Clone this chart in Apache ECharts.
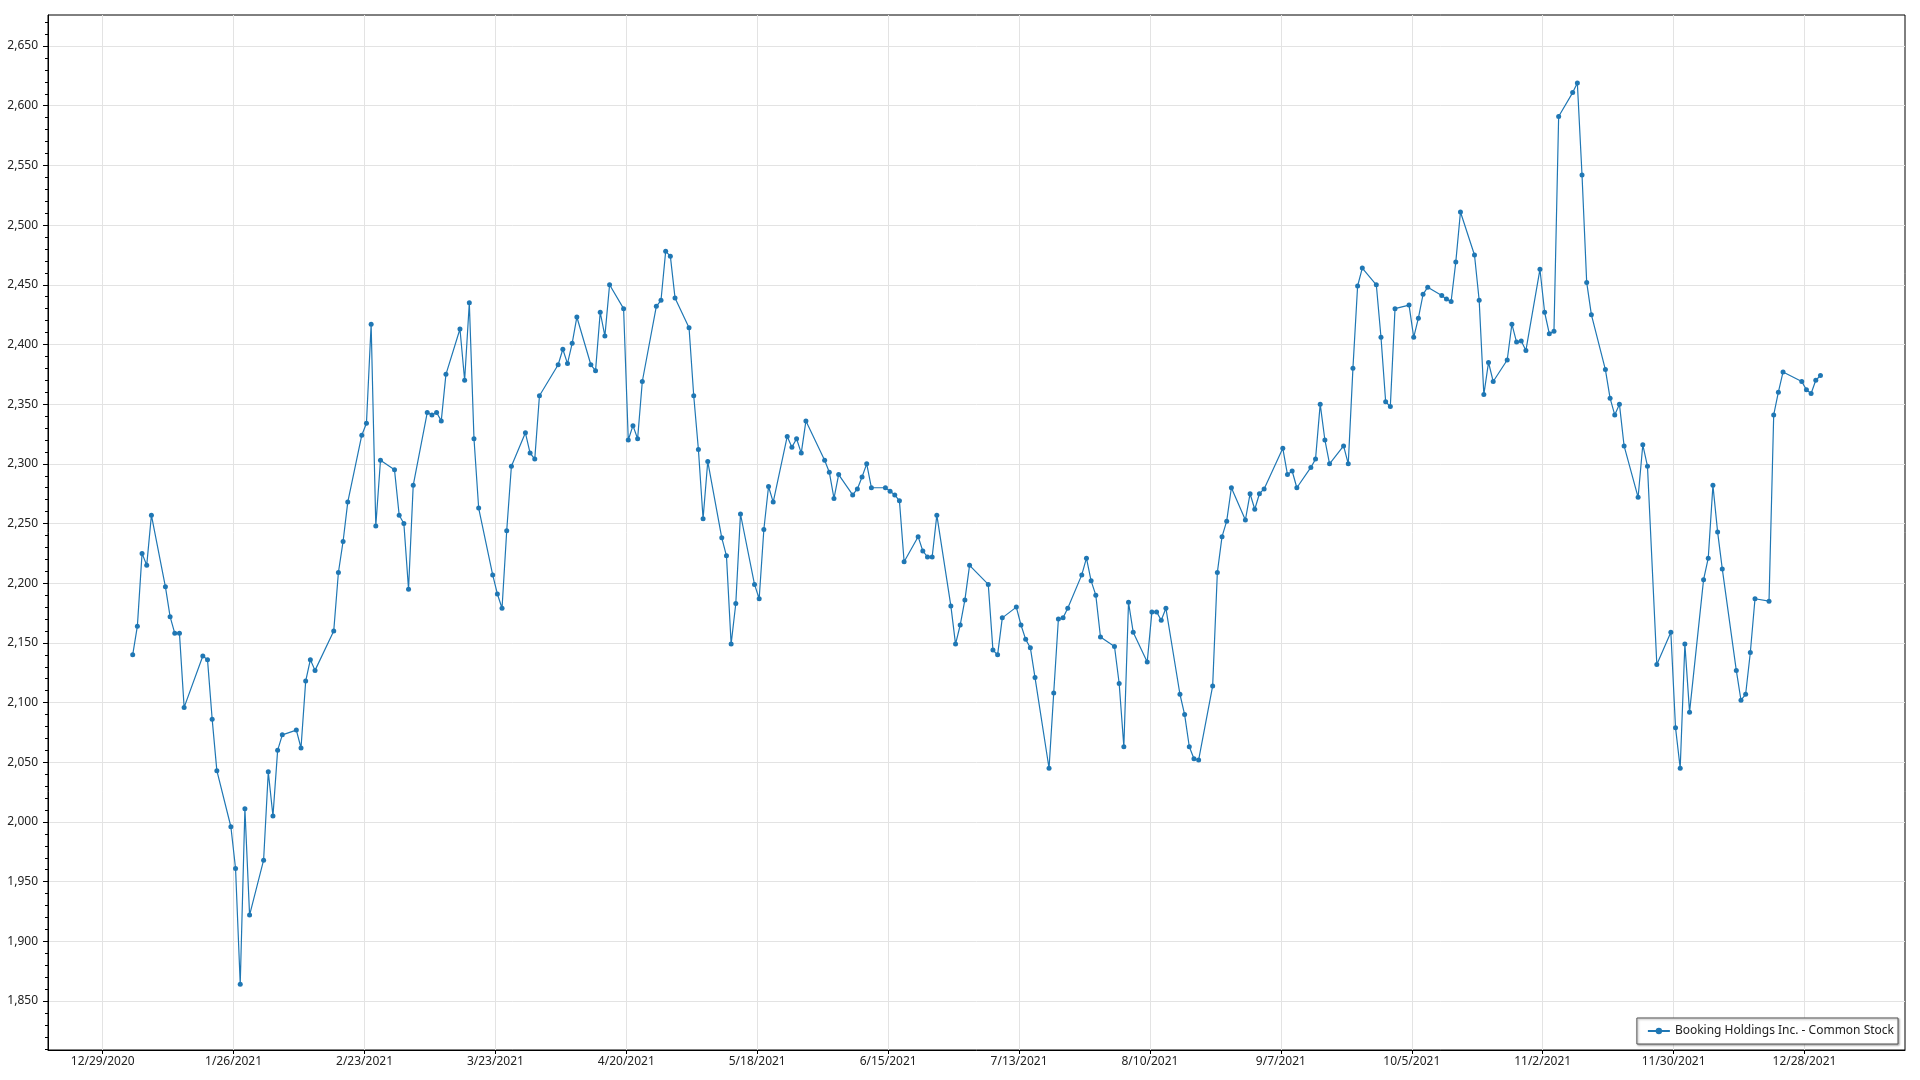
<!DOCTYPE html>
<html>
<head>
<meta charset="utf-8">
<script src="https://cdn.jsdelivr.net/npm/echarts@6/dist/echarts.min.js"></script>
<style>
html,body{margin:0;padding:0;background:#fff;}
#chart{width:1920px;height:1080px;}
</style>
</head>
<body>
<div id="chart"></div>
<script>
// ---- data: 2021 trading days (day of month) and closing prices ----
const janDays = [4,5,6,7,8,11,12,13,14,15,19,20,21,22,25,26,27,28,29];
const janClose = [2140,2164,2225,2215,2257,2197,2172,2158,2158,2096,2139,2136,2086,2043,1996,1961,1864,2011,1922];
const febDays = [1,2,3,4,5,8,9,10,11,12,16,17,18,19,22,23,24,25,26];
const febClose = [1968,2042,2005,2060,2073,2077,2062,2118,2136,2127,2160,2209,2235,2268,2324,2334,2417,2248,2303];
const marDays = [1,2,3,4,5,8,9,10,11,12,15,16,17,18,19,22,23,24,25,26,29,30,31];
const marClose = [2295,2257,2250,2195,2282,2343,2341,2343,2336,2375,2413,2370,2435,2321,2263,2207,2191,2179,2244,2298,2326,2309,2304];
const aprDays = [1,5,6,7,8,9,12,13,14,15,16,19,20,21,22,23,26,27,28,29,30];
const aprClose = [2357,2383,2396,2384,2401,2423,2383,2378,2427,2407,2450,2430,2320,2332,2321,2369,2432,2437,2478,2474,2439];
const mayDays = [3,4,5,6,7,10,11,12,13,14,17,18,19,20,21,24,25,26,27,28];
const mayClose = [2414,2357,2312,2254,2302,2238,2223,2149,2183,2258,2199,2187,2245,2281,2268,2323,2314,2321,2309,2336];
const junDays = [1,2,3,4,7,8,9,10,11,14,15,16,17,18,21,22,23,24,25,28,29,30];
const junClose = [2303,2293,2271,2291,2274,2279,2289,2300,2280,2280,2277,2274,2269,2218,2239,2227,2222,2222,2257,2181,2149,2165];
const julDays = [1,2,6,7,8,9,12,13,14,15,16,19,20,21,22,23,26,27,28,29,30];
const julClose = [2186,2215,2199,2144,2140,2171,2180,2165,2153,2146,2121,2045,2108,2170,2171,2179,2207,2221,2202,2190,2155];
const augDays = [2,3,4,5,6,9,10,11,12,13,16,17,18,19,20,23,24,25,26,27,30,31];
const augClose = [2147,2116,2063,2184,2159,2134,2176,2176,2169,2179,2107,2090,2063,2053,2052,2114,2209,2239,2252,2280,2253,2275];
const sepDays = [1,2,3,7,8,9,10,13,14,15,16,17,20,21,22,23,24,27,28,29,30];
const sepClose = [2262,2275,2279,2313,2291,2294,2280,2297,2304,2350,2320,2300,2315,2300,2380,2449,2464,2450,2406,2352,2348];
const octDays = [1,4,5,6,7,8,11,12,13,14,15,18,19,20,21,22,25,26,27,28,29];
const octClose = [2430,2433,2406,2422,2442,2448,2441,2438,2436,2469,2511,2475,2437,2358,2385,2369,2387,2417,2402,2403,2395];
const novDays = [1,2,3,4,5,8,9,10,11,12,15,16,17,18,19,22,23,24,26,29,30];
const novClose = [2463,2427,2409,2411,2591,2611,2619,2542,2452,2425,2379,2355,2341,2350,2315,2272,2316,2298,2132,2159,2079];
const decDays = [1,2,3,6,7,8,9,10,13,14,15,16,17,20,21,22,23,27,28,29,30,31];
const decClose = [2045,2149,2092,2203,2221,2282,2243,2212,2127,2102,2107,2142,2187,2185,2341,2360,2377,2369,2362,2359,2370,2374];

const seriesName = 'Booking Holdings Inc. - Common Stock';
const yTickValues = [1850,1900,1950,2000,2050,2100,2150,2200,2250,2300,2350,2400,2450,2500,2550,2600,2650];
const xTickDates = ['2020-12-29','2021-01-26','2021-02-23','2021-03-23','2021-04-20','2021-05-18','2021-06-15','2021-07-13','2021-08-10','2021-09-07','2021-10-05','2021-11-02','2021-11-30','2021-12-28'];
const sampleHour = 10; // quotes are stamped at 10:00 on each trading day

// ---- build ----
const monthDays = [janDays,febDays,marDays,aprDays,mayDays,junDays,julDays,augDays,sepDays,octDays,novDays,decDays];
const monthClose = [janClose,febClose,marClose,aprClose,mayClose,junClose,julClose,augClose,sepClose,octClose,novClose,decClose];
const seriesData = [];
monthDays.forEach((days, m) => {
  days.forEach((d, i) => {
    seriesData.push([new Date(2021, m, d, sampleHour).getTime(), monthClose[m][i]]);
  });
});
function parseLocal(s){ const p = s.split('-').map(Number); return new Date(p[0], p[1]-1, p[2]).getTime(); }
const xTicks = xTickDates.map(parseLocal);
const xMin = new Date(2020, 11, 17, 7, 12).getTime();
const xMax = new Date(2022, 0, 18, 12).getTime();
const yMin = 1809, yMax = 2676;
const minorY = [];
for (let v = 1810; v <= 2670; v += 10) { if (v % 50 !== 0) minorY.push(v); }

const FONT = "'Segoe UI', 'Noto Sans', sans-serif";
const chart = echarts.init(document.getElementById('chart'), null, {renderer: 'canvas'});
chart.setOption({
  animation: false,
  backgroundColor: '#ffffff',
  textStyle: {fontFamily: FONT},
  grid: {left: 48, right: 15, top: 15, bottom: 30, show: true, borderColor: '#000', borderWidth: 1, backgroundColor: 'transparent'},
  legend: {
    right: 22, bottom: 36,
    orient: 'horizontal',
    backgroundColor: '#ffffff',
    borderColor: '#555',
    borderWidth: 1,
    padding: [7, 4, 7, 10],
    itemWidth: 22, itemHeight: 8, itemGap: 5,
    shadowColor: 'rgba(0,0,0,0.35)', shadowBlur: 2, shadowOffsetX: 1, shadowOffsetY: 1,
    textStyle: {fontSize: 12, color: '#222', fontFamily: FONT},
    data: [seriesName]
  },
  xAxis: {
    type: 'value',
    min: xMin, max: xMax,
    axisLine: {show: true, onZero: false, lineStyle: {color: '#000', width: 1}},
    axisTick: {show: true, length: 4, customValues: xTicks, lineStyle: {color: '#000'}},
    axisLabel: {
      customValues: xTicks, margin: 6, fontSize: 12, color: '#222', fontFamily: FONT,
      formatter: function (v) { const d = new Date(v); return (d.getMonth()+1) + '/' + d.getDate() + '/' + d.getFullYear(); }
    },
    splitLine: {show: true, lineStyle: {color: '#e3e3e3', width: 1}}
  },
  yAxis: [{
    type: 'value',
    min: yMin, max: yMax,
    axisLine: {show: true, lineStyle: {color: '#000', width: 1}},
    axisTick: {show: true, length: 5, customValues: yTickValues, lineStyle: {color: '#000'}},
    axisLabel: {
      customValues: yTickValues, margin: 10, fontSize: 12, color: '#222', fontFamily: FONT,
      formatter: function (v) { return Number(v).toLocaleString('en-US'); }
    },
    splitLine: {show: true, lineStyle: {color: '#e3e3e3', width: 1}}
  }, {
    type: 'value',
    position: 'left',
    min: yMin, max: yMax,
    axisLine: {show: false},
    axisTick: {show: true, length: 3, customValues: minorY, lineStyle: {color: '#000'}},
    axisLabel: {show: false},
    splitLine: {show: false}
  }],
  series: [{
    name: seriesName,
    type: 'line',
    yAxisIndex: 0,
    data: seriesData,
    symbol: 'circle',
    symbolSize: 5,
    showSymbol: true,
    showAllSymbol: true,
    color: '#1f77b4',
    lineStyle: {width: 1.2, color: '#1f77b4'},
    itemStyle: {color: '#1f77b4'}
  }]
});
</script>
</body>
</html>
